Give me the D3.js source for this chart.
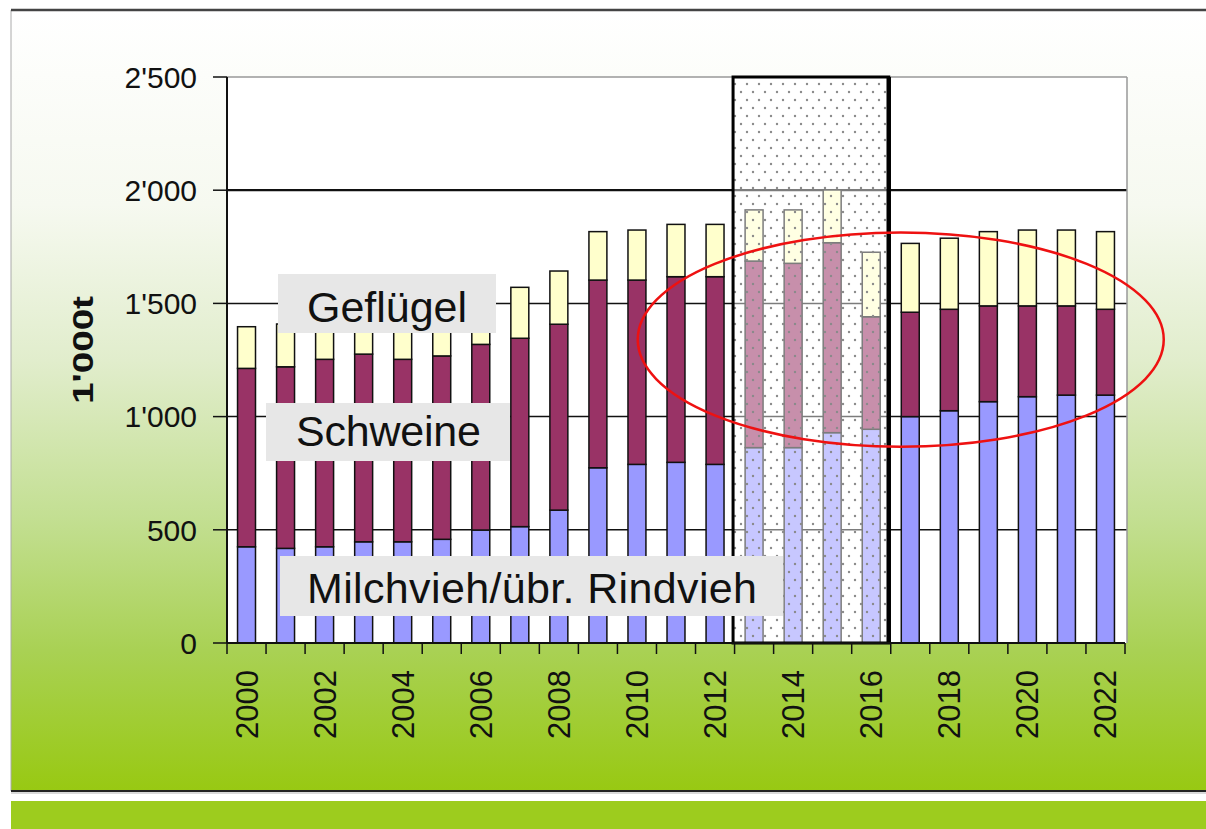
<!DOCTYPE html>
<html lang="de">
<head>
<meta charset="UTF-8">
<title>Fleischproduktion</title>
<script src="https://cdnjs.cloudflare.com/ajax/libs/d3/7.8.5/d3.min.js"></script>
<style>
  body { margin: 0; background: #fff; }
  svg text { font-family: "Liberation Sans", Arial, sans-serif; fill: #111; }
</style>
</head>
<body>
<div id="chart"></div>
<script>
// Daten (1'000 t)
const years = d3.range(2000, 2023);
const milchvieh = [425, 418, 425, 447, 447, 458, 499, 514, 587, 774, 789, 798, 789, 863, 863, 929, 944, 1000, 1026, 1066, 1088, 1095, 1095];
const schweine  = [788, 802, 828, 829, 806, 810, 820, 832, 821, 829, 814, 820, 829, 824, 814, 839, 497, 461, 448, 423, 401, 394, 379];
const gefluegel = [184, 189, 185, 180, 185, 185, 190, 225, 235, 214, 221, 231, 231, 226, 236, 233, 285, 304, 314, 328, 335, 335, 343];
const yTicks = [0, 500, 1000, 1500, 2000, 2500];
const keys = ["milchvieh", "schweine", "gefluegel"];
const colors = { milchvieh: "#9999ff", schweine: "#993366", gefluegel: "#ffffcc" };
const labels = ["Geflügel", "Schweine", "Milchvieh/übr. Rindvieh"];
const fmt = v => v >= 1000 ? Math.floor(v / 1000) + "'" + String(v % 1000).padStart(3, "0") : String(v);

const W = 1206, H = 829;
const svg = d3.select("#chart").append("svg").attr("width", W).attr("height", H);
const defs = svg.append("defs");

// Hintergrund-Verlauf
const grad = defs.append("linearGradient").attr("id", "bg").attr("x1", 0).attr("y1", 0).attr("x2", 0).attr("y2", 1);
[[0, "#ffffff"], [0.25, "#f6f9f0"], [0.45, "#e1edcc"], [0.65, "#c3df92"], [0.82, "#a9d154"], [1, "#98c912"]]
  .forEach(([o, c]) => grad.append("stop").attr("offset", o).attr("stop-color", c));

// Punktmuster für den markierten Bereich
const pat = defs.append("pattern").attr("id", "dots").attr("patternUnits", "userSpaceOnUse")
  .attr("width", 12).attr("height", 16);
pat.append("rect").attr("width", 12).attr("height", 16).attr("fill", "#fff").attr("fill-opacity", 0.45);
pat.append("circle").attr("cx", 3).attr("cy", 4).attr("r", 1.2).attr("fill", "#8a8a8a");
pat.append("circle").attr("cx", 9).attr("cy", 12).attr("r", 1.2).attr("fill", "#8a8a8a");

svg.append("rect").attr("x", 11).attr("y", 10).attr("width", W - 11).attr("height", 781).attr("fill", "url(#bg)");
svg.append("line").attr("x1", 11).attr("x2", 11).attr("y1", 10).attr("y2", 791).attr("stroke", "#aaa");
svg.append("line").attr("x1", 11).attr("x2", W).attr("y1", 10).attr("y2", 10).attr("stroke", "#444").attr("stroke-width", 2.5);
svg.append("line").attr("x1", 11).attr("x2", W).attr("y1", 791).attr("y2", 791).attr("stroke", "#222").attr("stroke-width", 2);
svg.append("line").attr("x1", 11).attr("x2", W).attr("y1", 793).attr("y2", 793).attr("stroke", "#ccc").attr("stroke-width", 1.5);
svg.append("rect").attr("x", 11).attr("y", 801).attr("width", W - 11).attr("height", 28).attr("fill", "#9dcc1e");

// Skalen
const pLeft = 227, pRight = 1125, pTop = 77, pBottom = 643;
const x = d3.scaleBand().domain(years).range([pLeft, pRight]).paddingInner(0.54).paddingOuter(0.27);
const y = d3.scaleLinear().domain([0, 2500]).range([pBottom, pTop]);
const step = x.step();
const bandStart = d => x(d) - (step - x.bandwidth()) / 2;

// Zeichenfläche
svg.append("rect").attr("x", pLeft).attr("y", pTop).attr("width", pRight + 2 - pLeft).attr("height", pBottom - pTop).attr("fill", "#fff");
svg.append("g").selectAll("line").data(yTicks.filter(v => v > 0 && v < 2500)).join("line")
  .attr("x1", pLeft).attr("x2", pRight + 2).attr("y1", d => y(d)).attr("y2", d => y(d))
  .attr("stroke", "#111").attr("stroke-width", d => d === 2000 ? 2.2 : 1.5);
svg.append("line").attr("x1", pLeft).attr("x2", pRight + 2).attr("y1", pTop).attr("y2", pTop).attr("stroke", "#999").attr("stroke-width", 1.5);
svg.append("line").attr("x1", pRight + 2).attr("x2", pRight + 2).attr("y1", pTop).attr("y2", pBottom).attr("stroke", "#999").attr("stroke-width", 1.5);

// gestapelte Säulen
const rows = years.map((yr, i) => ({ year: yr, milchvieh: milchvieh[i], schweine: schweine[i], gefluegel: gefluegel[i] }));
const stacked = d3.stack().keys(keys)(rows);
svg.append("g").selectAll("g").data(stacked).join("g")
  .attr("fill", d => colors[d.key])
  .selectAll("rect").data(d => d).join("rect")
  .attr("x", d => x(d.data.year)).attr("width", x.bandwidth())
  .attr("y", d => y(d[1])).attr("height", d => y(d[0]) - y(d[1]))
  .attr("stroke", "#111").attr("stroke-width", 1.5);

// markierter Bereich 2013–2016
const hx0 = bandStart(2013) - 1.5, hx1 = bandStart(2017) - 2;
svg.append("rect").attr("x", hx0).attr("y", pTop).attr("width", hx1 - hx0).attr("height", pBottom - pTop)
  .attr("fill", "url(#dots)").attr("stroke", "#000").attr("stroke-width", 3);
svg.append("line").attr("x1", hx1).attr("x2", hx1).attr("y1", pTop).attr("y2", pBottom).attr("stroke", "#000").attr("stroke-width", 4.5);

// Achsen
svg.append("line").attr("x1", pLeft).attr("x2", pLeft).attr("y1", pTop).attr("y2", pBottom).attr("stroke", "#111").attr("stroke-width", 2);
svg.append("line").attr("x1", pLeft).attr("x2", pRight).attr("y1", pBottom).attr("y2", pBottom).attr("stroke", "#111").attr("stroke-width", 2);
svg.append("g").selectAll("line").data(yTicks).join("line")
  .attr("x1", pLeft - 14).attr("x2", pLeft).attr("y1", d => y(d)).attr("y2", d => y(d))
  .attr("stroke", "#111").attr("stroke-width", 1.5);
svg.append("g").selectAll("text").data(yTicks).join("text")
  .attr("x", 197).attr("y", d => y(d)).attr("dy", "0.36em").attr("text-anchor", "end")
  .attr("font-size", 30).text(fmt);
const bounds = years.map(bandStart).concat([pRight]);
svg.append("g").selectAll("line").data(bounds).join("line")
  .attr("x1", d => d).attr("x2", d => d).attr("y1", pBottom).attr("y2", pBottom + 11)
  .attr("stroke", "#111").attr("stroke-width", 1.5);
svg.append("g").selectAll("text").data(years.filter(v => v % 2 === 0)).join("text")
  .attr("transform", d => `translate(${x(d) + x.bandwidth() / 2 + 11},670) rotate(-90)`)
  .attr("text-anchor", "end").attr("font-size", 31).text(d => d);
svg.append("text").attr("transform", "translate(93,350) rotate(-90)").attr("text-anchor", "middle")
  .attr("font-size", 30).attr("font-weight", "bold")
  .attr("textLength", 108).attr("lengthAdjust", "spacingAndGlyphs").text("1'000t");

// Beschriftungen der Reihen
const boxes = [
  { x: 278, y: 274, w: 218, h: 59, tx: 307, ty: 322, len: 160 },
  { x: 266, y: 403, w: 244, h: 58, tx: 296, ty: 446, len: 185 },
  { x: 280, y: 556, w: 503, h: 60, tx: 307, ty: 603, len: 450 }
];
const lab = svg.append("g").selectAll("g").data(labels).join("g");
lab.append("rect").attr("x", (d, i) => boxes[i].x).attr("y", (d, i) => boxes[i].y)
  .attr("width", (d, i) => boxes[i].w).attr("height", (d, i) => boxes[i].h).attr("fill", "#e7e7e7");
lab.append("text").attr("x", (d, i) => boxes[i].tx).attr("y", (d, i) => boxes[i].ty)
  .attr("font-size", 43).attr("textLength", (d, i) => boxes[i].len).attr("lengthAdjust", "spacing")
  .text(d => d);

// rote Ellipse
svg.append("ellipse").attr("cx", bandStart(2017) + 10).attr("cy", y(1340))
  .attr("rx", 263).attr("ry", y(0) - y(473))
  .attr("fill", "none").attr("stroke", "#ee1111").attr("stroke-width", 2.5);
</script>
</body>
</html>
